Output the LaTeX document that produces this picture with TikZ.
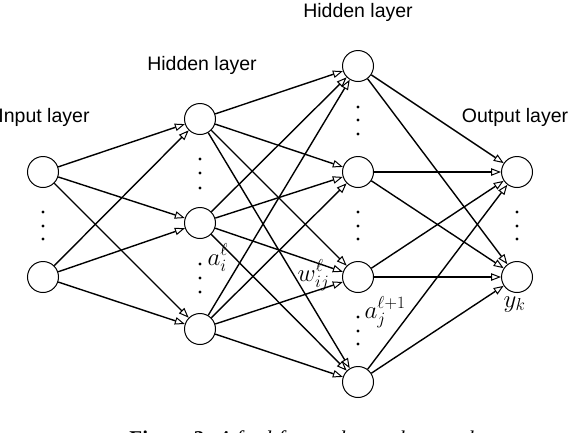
\documentclass[tikz,border=0pt]{standalone}
\usepackage{amsmath,amssymb}
\usepackage{fontspec}
\usepackage{tikz}
\usetikzlibrary{arrows.meta}
\newfontfamily\lblfont{Liberation Sans}
\newfontfamily\capfont{Liberation Serif}

\begin{document}
\begin{tikzpicture}[
    x=1pt, y=-1pt,
    >={Triangle[open,length=10pt,width=7.5pt,line width=1pt]},
    line width=1.4pt,
    unit/.style={circle,draw,minimum size=31pt,inner sep=0pt,line width=1pt},
    lbl/.style={anchor=base,font=\lblfont\fontsize{19.5}{22}\selectfont},
    sym/.style={anchor=base west,inner sep=0pt,font=\fontsize{25}{28}\selectfont}
  ]
    \useasboundingbox (0,0) rectangle (572,432);
    \clip (0,0) rectangle (572,432);
    % input layer
    \node[unit] (x1) at (43,172) {};
    \node[unit] (x2) at (43,277) {};
    % first hidden layer
    \node[unit] (h1) at (200,119) {};
    \node[unit] (h2) at (200,223) {};
    \node[unit] (h3) at (200,329) {};
    % second hidden layer
    \node[unit] (g1) at (358,66) {};
    \node[unit] (g2) at (358,172) {};
    \node[unit] (g3) at (358,277) {};
    \node[unit] (g4) at (358,382) {};
    % output layer
    \node[unit] (y1) at (517,172) {};
    \node[unit] (y2) at (517,277) {};
    % layer titles
    \node[lbl] (tin) at (44,122) {Input layer};
    \node[lbl] (th1) at (202,70) {Hidden layer};
    \node[lbl] (th2) at (358,17) {Hidden layer};
    \node[lbl] (tout) at (515,122) {Output layer};
    % connections
    \foreach \a in {x1,x2} \foreach \b in {h1,h2,h3} \draw[->] (\a) -- (\b);
    \foreach \a in {h1,h2,h3} \foreach \b in {g1,g2,g3,g4} \draw[->] (\a) -- (\b);
    \foreach \a in {g1,g2,g3,g4} \foreach \b in {y1,y2} \draw[->] (\a) -- (\b);
    % vertical dots
    \foreach \x/\y in {43/212,43/226,43/239, 200/159,200/173,200/188,
        200/264,200/278,200/292, 358/107,358/120,358/134,
        358/212,358/226,358/239, 358/317,358/331,358/344,
        517/212,517/226,517/239}
      \fill (\x,\y) circle (1.6pt);
    % symbols
    \node[sym] (ai) at (207,265) {$a_i^\ell$};
    \node[sym] (wij) at (297,281) {$w_{ij}^\ell$};
    \node[sym] (aj) at (364,318) {$a_j^{\ell+1}$};
    \node[sym] (yk) at (503,307) {$y_k$};
    % caption, cut by the page edge
    \node[anchor=north,inner sep=0pt,font=\capfont\fontsize{21}{24}\selectfont] (cap) at (304,430.5)
      {\textbf{Figure 3:} \textit{A feed-forward neural network}};
  \end{tikzpicture}
\end{document}
